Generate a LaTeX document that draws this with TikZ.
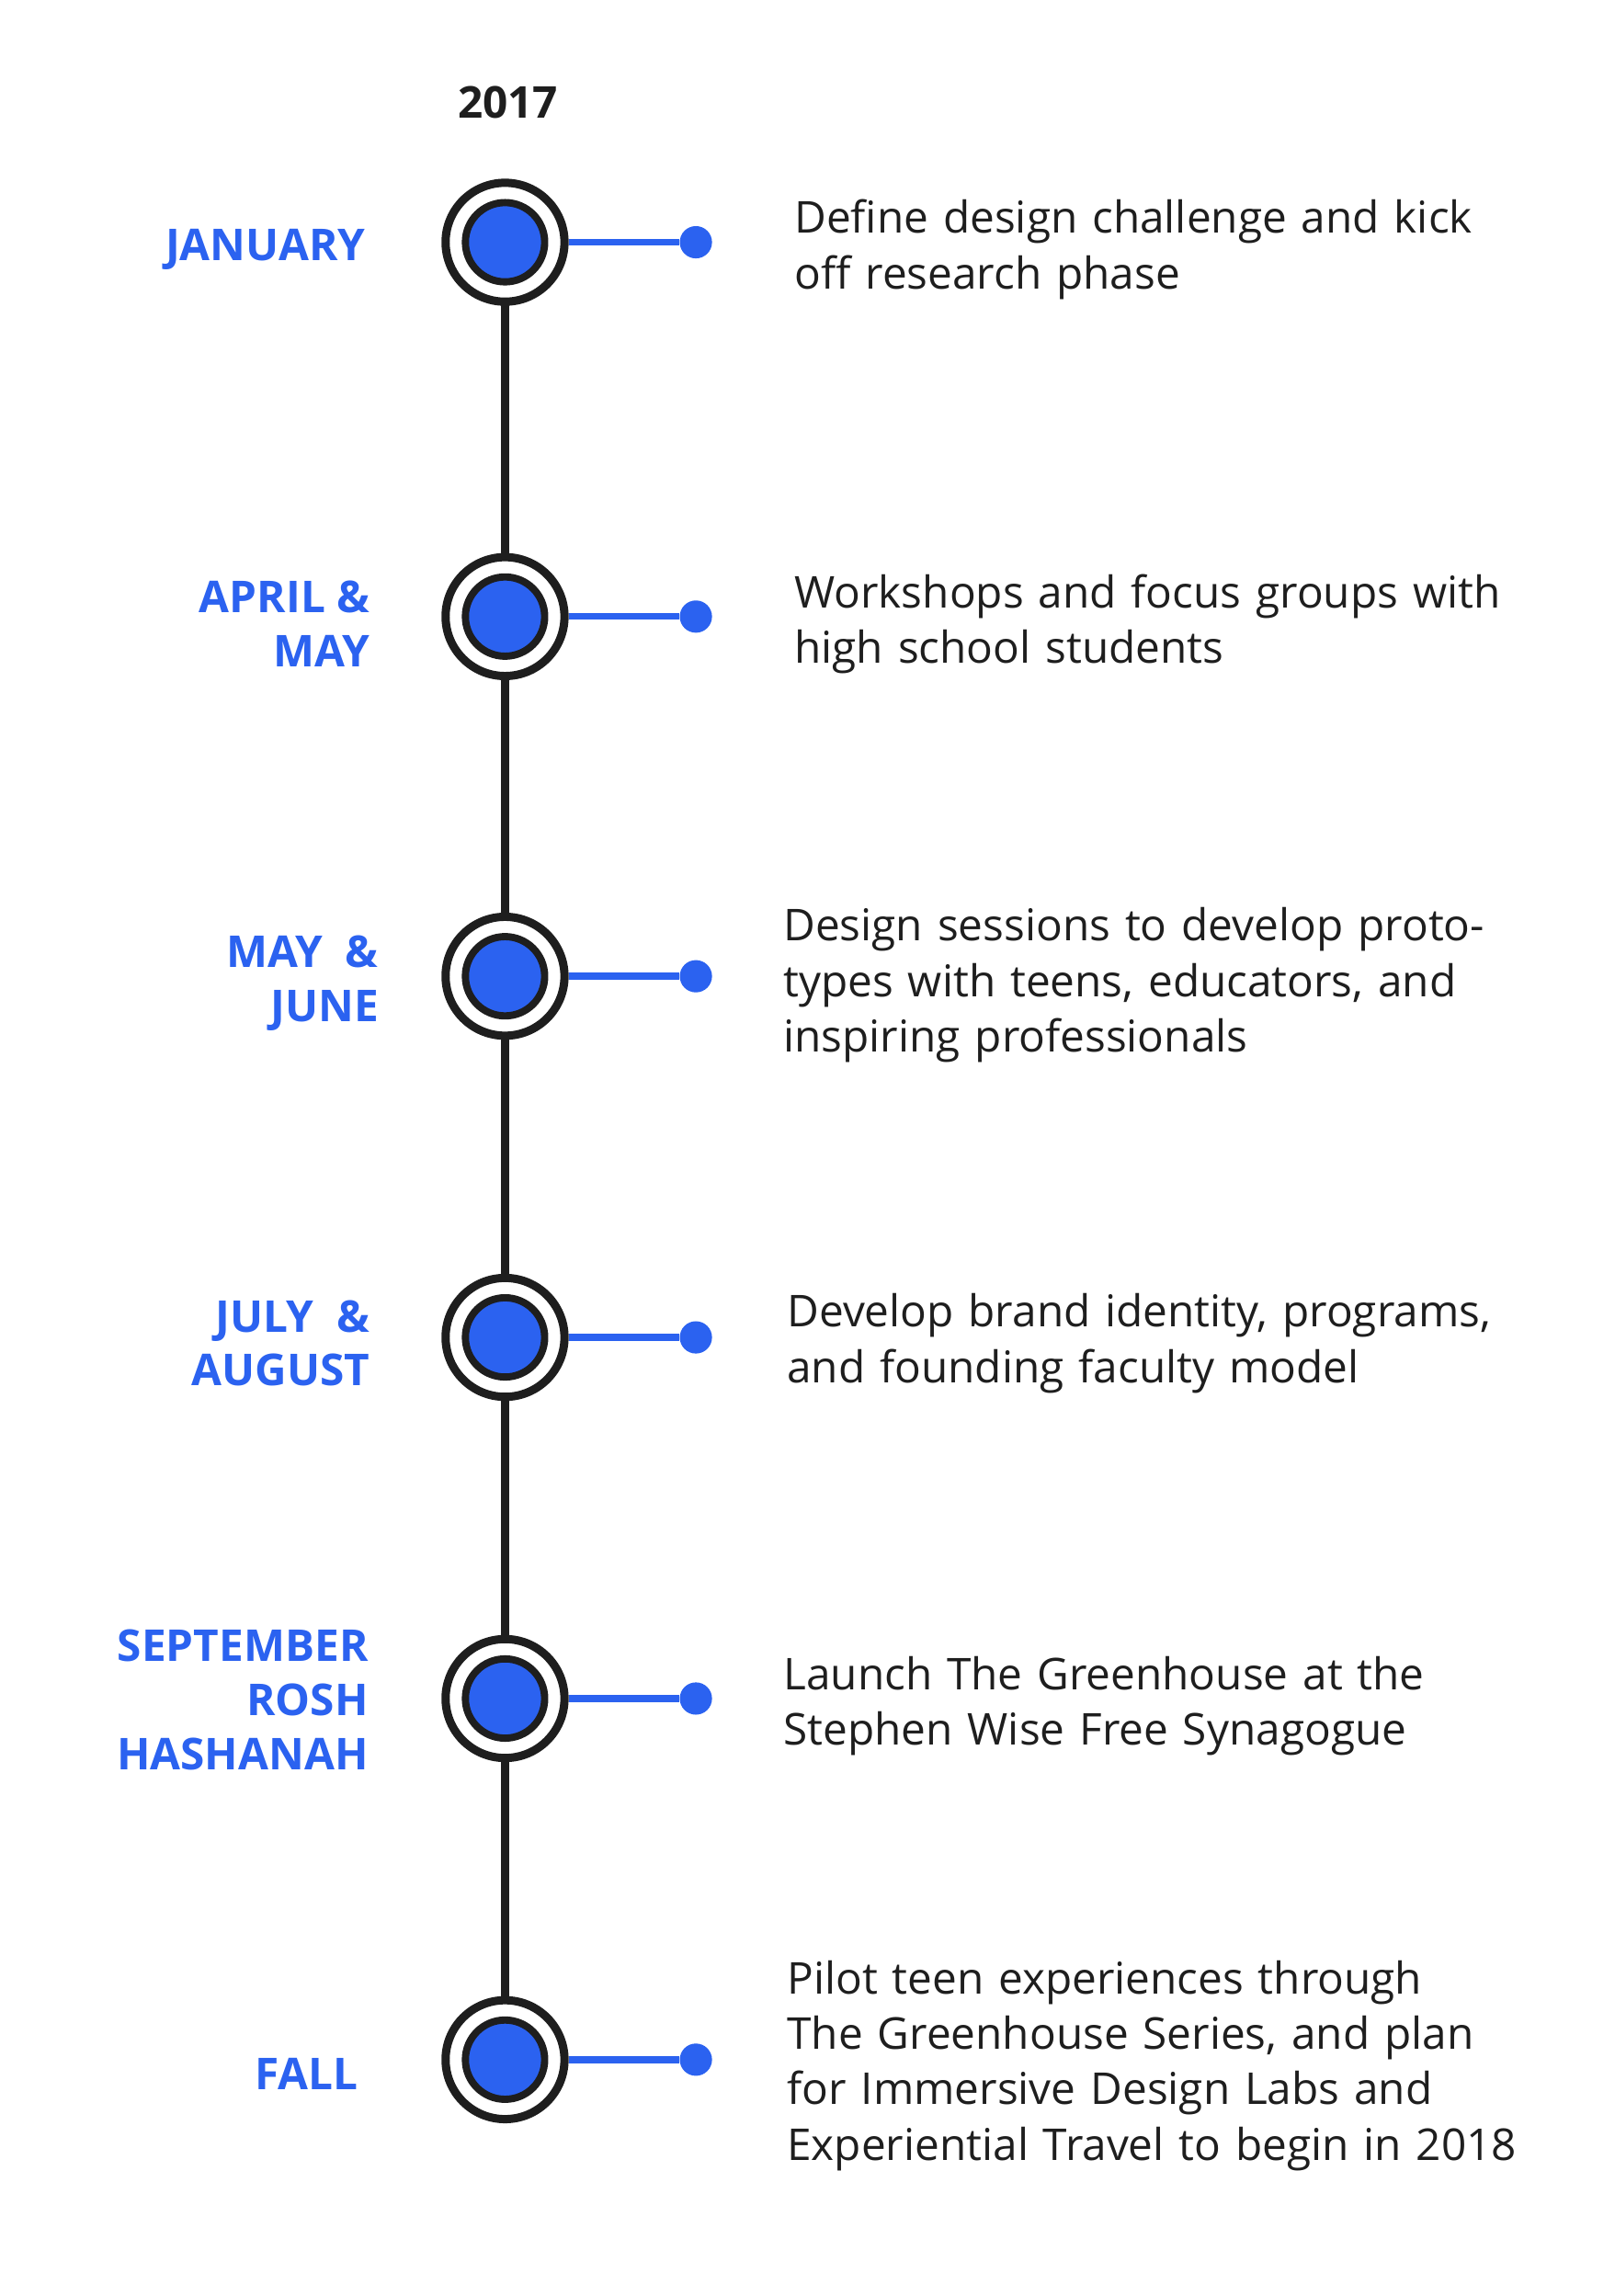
\documentclass[tikz,border=0pt]{standalone}
\usepackage{fontspec}
\setmainfont{Open Sans}
\usepackage{tikz}
\definecolor{tlblue}{HTML}{2B62F0}
\definecolor{tlblack}{HTML}{1E1E1E}
\begin{document}
\begin{tikzpicture}[
    month/.style={text=tlblue, font=\fontsize{17}{21}\selectfont\bfseries, align=right, anchor=east},
    desc/.style={text=tlblack, font=\fontsize{17}{21.5}\selectfont, align=left, anchor=west, text width=10.5cm},
    stop/.style={circle, draw=tlblack, line width=3.2pt, fill=white, minimum size=1.62cm},
    core/.style={circle, draw=tlblack, line width=2.8pt, fill=tlblue, minimum size=1.08cm},
    dot/.style={circle, fill=tlblue, inner sep=0pt, minimum size=0.44cm}
]
    \useasboundingbox (0,0) rectangle (22,-31.28);

    \node[font=\fontsize{17}{20}\selectfont\bfseries, text=tlblack] (year) at (6.92,-1.4) {2017};

    \draw[tlblack, line width=3pt] (6.88,-3.3) -- (6.88,-28.06);

    \foreach \y/\nm in {-3.3/a, -8.4/b, -13.3/c, -18.22/d, -23.14/e, -28.06/f} {
        \node[stop] (\nm) at (6.88,\y) {};
        \node[core] at (\nm) {};
        \node[dot] (\nm dot) at (9.48,\y) {};
        \draw[tlblue, line width=2.6pt] (\nm.east) -- (\nm dot);
    }

    \node[month] at (5.1,-3.4) {JANUARY};
    \node[month] at (5.16,-8.5) {APRIL \&\\MAY};
    \node[month] at (5.28,-13.4) {MAY \ \&\\JUNE};
    \node[month] at (5.16,-18.3) {JULY \ \&\\AUGUST};
    \node[month] at (5.14,-23.16) {SEPTEMBER\\ROSH\ \\HASHANAH};
    \node[month] at (5.0,-28.26) {FALL};

    \node[desc] at (10.7,-3.4) {Define design challenge and kick\\off research phase};
    \node[desc] at (10.7,-8.5) {Workshops and focus groups with\\high school students};
    \node[desc] at (10.55,-13.42) {Design sessions to develop proto-\\types with teens, educators, and\\inspiring professionals};
    \node[desc] at (10.6,-18.3) {Develop brand identity, programs,\\and founding faculty model};
    \node[desc] at (10.55,-23.24) {Launch The Greenhouse at the\\Stephen Wise Free Synagogue};
    \node[desc] at (10.6,-28.14) {Pilot teen experiences through\\The Greenhouse Series, and plan\\for Immersive Design Labs and\\Experiential Travel to begin in 2018};
\end{tikzpicture}
\end{document}
